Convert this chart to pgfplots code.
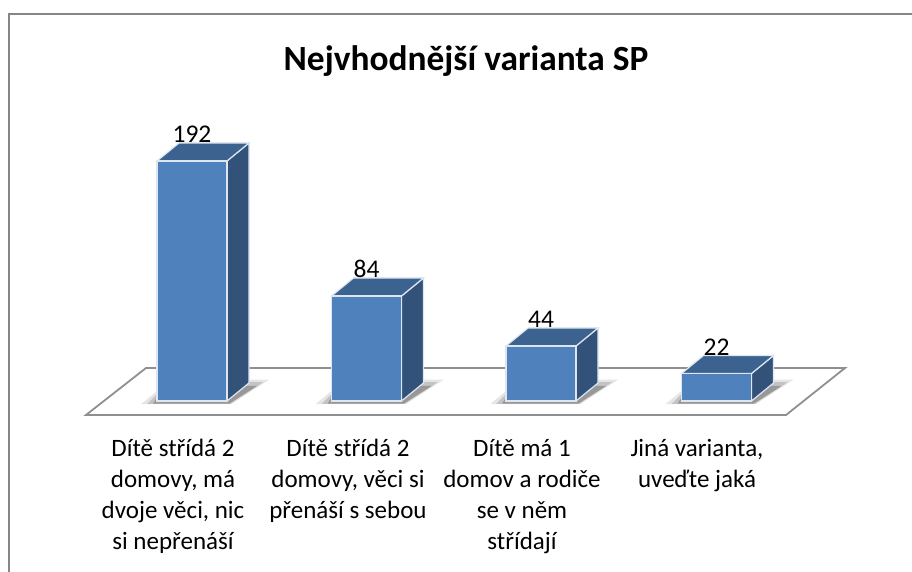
\documentclass[border=0pt]{standalone}
\usepackage{pgfplots}
\pgfplotsset{compat=1.18}
\usepackage{pgfplotstable}
\usepackage{fontspec}
\setmainfont{Carlito}

\definecolor{front}{HTML}{4F81BD}
\definecolor{sidec}{HTML}{325279}
\definecolor{topc}{HTML}{3C6390}
\definecolor{edgec}{HTML}{DDE6F0}
\definecolor{framec}{HTML}{868686}
\definecolor{floorc}{HTML}{8F8F8F}

% x is in pixels of the picture, y in votes (1.25 px per vote)
\pgfplotstableread{
dx dy k
70 0 0
70 0 1
92 14.4 1
92 14.4 0
}\sideface
\pgfplotstableread{
dx dy k
0 0 1
70 0 1
92 14.4 1
22 14.4 1
}\topface
\pgfplotstableread{
dx dy
-16 -2.6
74 -2.6
112 17
60 17
0 8
}\shadowa
\pgfplotstableread{
dx dy
-10 -2.4
73 -2.4
106 15
60 15
0 5.5
}\shadowb
\pgfplotstableread{
dx dy
-4 -2.2
72 -2.2
100 12
60 12
0 3
}\shadowc

\newcommand{\barshadow}[1]{
  \addplot[fill=black,draw=none,opacity=.1] table[x expr=\thisrow{dx}+#1,y=dy] {\shadowa};
  \addplot[fill=black,draw=none,opacity=.15] table[x expr=\thisrow{dx}+#1,y=dy] {\shadowb};
  \addplot[fill=black,draw=none,opacity=.22] table[x expr=\thisrow{dx}+#1,y=dy] {\shadowc};
}
\newcommand{\barfaces}[2]{
  \addplot[fill=sidec,draw=edgec,line width=1.2pt] table[x expr=\thisrow{dx}+#1,y expr=\thisrow{dy}+\thisrow{k}*#2] {\sideface} -- cycle;
  \addplot[fill=topc,draw=edgec,line width=1.2pt] table[x expr=\thisrow{dx}+#1,y expr=\thisrow{dy}+\thisrow{k}*#2] {\topface} -- cycle;
}

\begin{document}
\begin{tikzpicture}
\path[use as bounding box] (0,0) rectangle (912pt,572pt);
\begin{axis}[
    at={(0,0)}, anchor=south west,
    scale only axis, width=912pt, height=572pt,
    xmin=0, xmax=912, ymin=-136.8, ymax=320.8,
    axis line style={draw=none}, tick style={draw=none},
    ytick=\empty, clip=false,
    xtick={173,348,522,697},
    xticklabels={{Dítě střídá 2\\domovy, má\\dvoje věci, nic\\si nepřenáší},
                 {Dítě střídá 2\\domovy, věci si\\přenáší s sebou},
                 {Dítě má 1\\domov a rodiče\\se v něm\\střídají},
                 {Jiná varianta,\\uveďte jaká}},
    xticklabel style={align=center, anchor=north, yshift=136pt, font=\fontsize{25}{31}\selectfont},
    title={\fontsize{35.4}{38}\selectfont\bfseries Nejvhodnější varianta SP},
    title style={at={(466pt,495pt)}, anchor=base, yshift=0pt},
]
% frame and floor
\addplot[framec, line width=2pt] coordinates {(9,-136.8) (9,309.6) (912,309.6)};
\addplot[floorc, line width=1.8pt] coordinates {(86,-11.2) (146,26.4) (845,26.4) (786,-11.2)} -- cycle;

\barshadow{157}
\barshadow{331.5}
\barshadow{506}
\barshadow{681.5}

\barfaces{157}{192}
\barfaces{331.5}{84}
\barfaces{506}{44}
\barfaces{681.5}{22}

\addplot[ybar, bar width=70pt, bar shift=0pt, fill=front, draw=edgec, line width=1.2pt,
    nodes near coords,
    nodes near coords style={anchor=base, yshift=18pt, text=black, font=\fontsize{25.5}{25.5}\selectfont, /pgf/number format/assume math mode=true}]
  coordinates {(192,192) (366.5,84) (541,44) (716.5,22)};
\end{axis}
\end{tikzpicture}
\end{document}
